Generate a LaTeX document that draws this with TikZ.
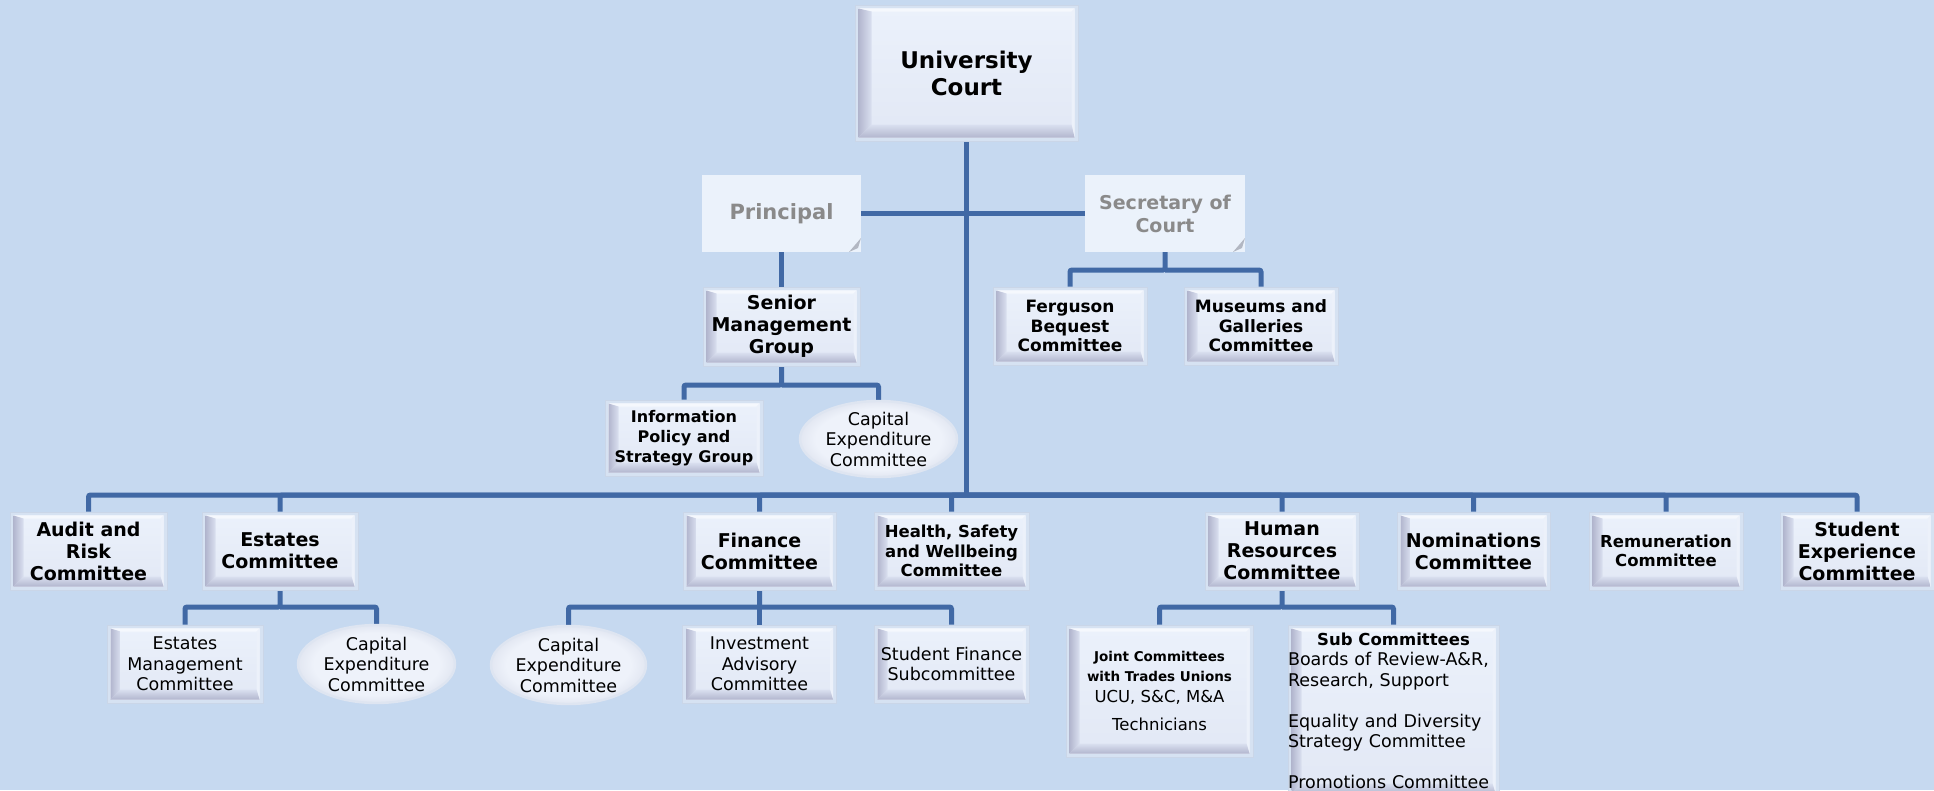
\documentclass[tikz,border=0pt]{standalone}
\usepackage{fontspec}
\setmainfont{DejaVu Sans}
\usetikzlibrary{shapes.geometric,calc}
\definecolor{bgcol}{RGB}{198,217,240}
\definecolor{linecol}{RGB}{65,105,165}
\definecolor{frame}{RGB}{214,226,242}
\definecolor{frameedge}{RGB}{202,214,232}
\definecolor{face}{RGB}{235,241,251}
\definecolor{facelow}{RGB}{226,232,245}
\definecolor{bevdark}{RGB}{178,182,206}
\definecolor{bevmid}{RGB}{218,224,240}
\definecolor{bevtop}{RGB}{245,248,253}
\definecolor{bevright}{RGB}{236,241,250}
\definecolor{notefill}{RGB}{235,242,251}
\definecolor{notetext}{RGB}{138,138,138}
\definecolor{foldcol}{RGB}{178,183,194}
\definecolor{ellin}{RGB}{238,242,250}
\definecolor{ellout}{RGB}{184,191,212}
\definecolor{ellrim}{RGB}{222,229,241}
\pgfdeclareradialshading{ellsh}{\pgfpointorigin}{color(0bp)=(ellin); color(20bp)=(ellin); color(43bp)=(ellout); color(50bp)=(ellout)}
\pgfdeclarelayer{bglayer}
\pgfdeclarelayer{lines}
\pgfsetlayers{bglayer,lines,main}
\newcommand\fUC{\fontsize{23}{27}\selectfont\bfseries}
\newcommand\fL{\fontsize{19}{22}\selectfont\bfseries}
\newcommand\fM{\fontsize{16.5}{19.5}\selectfont\bfseries}
\newcommand\fF{\fontsize{17}{19.5}\selectfont\bfseries}
\newcommand\fI{\fontsize{16}{20}\selectfont\bfseries}
\newcommand\fR{\fontsize{17.5}{20.5}\selectfont}
\newcommand\fP{\fontsize{21}{24}\selectfont\bfseries}
\newcommand\fS{\fontsize{19}{23}\selectfont\bfseries}
\tikzset{
  bvl/.store in=\bvl, bvl=10pt,
  sz/.style 2 args={minimum width=#1pt, minimum height=#2pt},
  bevel/.style={rectangle, inner sep=0pt, align=center, fill=frame, draw=frameedge, line width=0.6pt,
    path picture={
      \path (path picture bounding box.south west) ++(3.5pt,3.5pt) coordinate (q1)
            (path picture bounding box.north east) ++(-3.5pt,-3.5pt) coordinate (q3);
      \path (q1 |- q3) coordinate (q2) (q3 |- q1) coordinate (q4);
      \shade[top color=face, bottom color=facelow] (q1) rectangle (q3);
      \fill[bevtop] (q2) -- (q3) -- ([shift={(-3pt,-3pt)}]q3) -- ([shift={(\bvl,-3pt)}]q2) -- cycle;
      \fill[bevright] (q3) -- (q4) -- ([shift={(-3pt,\bvl)}]q4) -- ([shift={(-3pt,-3pt)}]q3) -- cycle;
      \shade[top color=bevmid, bottom color=bevdark] (q1) -- (q4) -- ([shift={(-3pt,\bvl)}]q4) -- ([shift={(\bvl,\bvl)}]q1) -- cycle;
      \shade[left color=bevdark, right color=bevmid] (q1) -- (q2) -- ([shift={(\bvl,-3pt)}]q2) -- ([shift={(\bvl,\bvl)}]q1) -- cycle;
    }},
  note/.style={rectangle, inner sep=0pt, align=center, fill=notefill, text=notetext,
    path picture={
      \fill[foldcol] ([shift={(-12pt,0pt)}]path picture bounding box.south east) -- ([shift={(0pt,14pt)}]path picture bounding box.south east) -- ([shift={(-3pt,4pt)}]path picture bounding box.south east) -- cycle;
    }},
  ell/.style={ellipse, inner xsep=0pt, inner ysep=-4pt, align=center, shading=ellsh, draw=ellrim, line width=2.4pt},
  conn/.style={draw=linecol, line width=5pt, rounded corners=2pt},
}
\begin{document}
\begin{tikzpicture}[x=1pt,y=-1pt]
\begin{pgfonlayer}{bglayer}
\fill[bgcol] (0,0) rectangle (1934,790);
\end{pgfonlayer}
\useasboundingbox (0,0) rectangle (1934,790);

% top
\node[bevel, bvl=13pt, sz={223}{136}, font=\fUC] (uc) at (966.5,73) {University\\Court};
\node[note, sz={159}{77}, font=\fP] (principal) at (781.5,213.5) {Principal};
\node[note, sz={160}{77}, font=\fS] (secretary) at (1165,213.5) {Secretary of\\Court};
\node[bevel, sz={157}{79}, font=\fL] (smg) at (781.5,326.5) {Senior\\Management\\Group};
\node[bevel, sz={154}{78}, font=\fF] (ferg) at (1070,326) {Ferguson\\Bequest\\Committee};
\node[bevel, sz={154}{78}, font=\fF] (mus) at (1261,326) {Museums and\\Galleries\\Committee};
\node[bevel, sz={158}{76}, font=\fI] (info) at (684,438) {Information\\Policy and\\Strategy Group};
\node[ell, sz={157}{76}, font=\fR] (capS) at (878.5,439) {Capital\\Expenditure\\Committee};

% top-level committees
\node[bevel, sz={157}{78}, font=\fL] (audit) at (88.5,551) {Audit and\\Risk\\Committee};
\node[bevel, sz={156}{78}, font=\fL] (est) at (280,551) {Estates\\Committee};
\node[bevel, sz={153}{78}, font=\fL] (fin) at (759.5,551) {Finance\\Committee};
\node[bevel, sz={155}{78}, font=\fM] (hsw) at (951.5,551) {Health, Safety\\and Wellbeing\\Committee};
\node[bevel, sz={154}{78}, font=\fL] (hr) at (1282,551) {Human\\Resources\\Committee};
\node[bevel, sz={153}{78}, font=\fL] (nom) at (1473.5,551) {Nominations\\Committee};
\node[bevel, sz={154}{78}, font=\fM] (rem) at (1666,551) {Remuneration\\Committee};
\node[bevel, sz={154}{78}, font=\fL] (sexp) at (1857,551) {Student\\Experience\\Committee};

% sub committees
\node[bevel, sz={156}{78}, font=\fR] (estm) at (185,664) {Estates\\Management\\Committee};
\node[ell, sz={157}{78}, font=\fR] (capE) at (376.5,664) {Capital\\Expenditure\\Committee};
\node[ell, sz={155}{78}, font=\fR] (capF) at (568.5,665) {Capital\\Expenditure\\Committee};
\node[bevel, sz={154}{78}, font=\fR] (inv) at (759.5,664) {Investment\\Advisory\\Committee};
\node[bevel, sz={155}{78}, font=\fR] (sfin) at (951.5,664) {Student Finance\\Subcommittee};
\node[bevel, sz={187}{132}, font=\fR] (joint) at (1159.5,691)
  {{\fontsize{13.5}{17}\selectfont\bfseries Joint Committees}\\
   {\fontsize{13.5}{17}\selectfont\bfseries with Trades Unions}\\
   {\fontsize{16.5}{18}\selectfont UCU, S\&C, M\&A}\\[8pt]
   {\fontsize{16.5}{18}\selectfont Technicians}};
\node[bevel, text width=211pt, align=left, minimum height=172pt, font=\fR] (subc) at (1393.5,711)
  {\makebox[211pt]{\fontsize{16.5}{20.5}\selectfont\bfseries Sub Committees}\\
   Boards of Review-A\&R,\\ Research, Support\\[20.5pt]
   Equality and Diversity\\ Strategy Committee\\[20.5pt]
   Promotions Committee};

% bar coordinates
\coordinate (mb) at (966.5,495);
\coordinate (secbar) at (1165,270);
\coordinate (smgbar) at (781.5,385);
\coordinate (estbar) at (280,607);
\coordinate (finbar) at (759.5,607);
\coordinate (hrbar) at (1282,607);

\begin{pgfonlayer}{lines}
\draw[conn] (uc.south) -- (mb);
\draw[conn] (principal) -- (secretary);
\draw[conn] (principal) -- (smg);
\draw[conn] (secretary.south) -- (secbar) -| (ferg.north);
\draw[conn] (secbar) -| (mus.north);
\draw[conn] (smg.south) -- (smgbar) -| (info.north);
\draw[conn] (smgbar) -| (capS.north);
\foreach \c in {audit,est,fin,hsw,hr,nom,rem,sexp}
  \draw[conn] (mb) -| (\c.north);
\draw[conn] (est.south) -- (estbar) -| (estm.north);
\draw[conn] (estbar) -| (capE.north);
\draw[conn] (fin.south) -- (finbar) -| (capF.north);
\draw[conn] (finbar) -- (inv.north);
\draw[conn] (finbar) -| (sfin.north);
\draw[conn] (hr.south) -- (hrbar) -| (joint.north);
\draw[conn] (hrbar) -| (subc.north);
\end{pgfonlayer}
\end{tikzpicture}
\end{document}
